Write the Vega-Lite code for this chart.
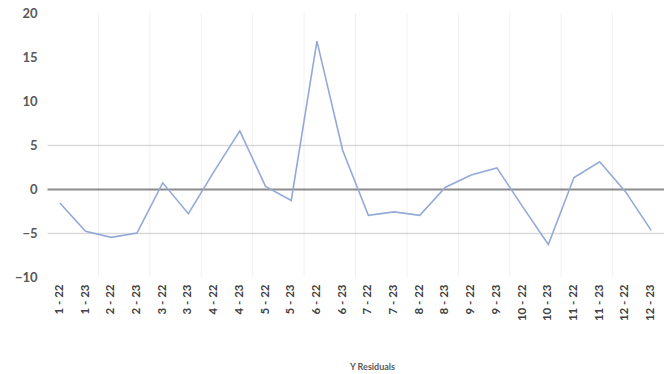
{
  "$schema": "https://vega.github.io/schema/vega-lite/v6.json",
  "width": 617,
  "height": 264,
  "autosize": {"type": "none"},
  "padding": {"left": 47, "top": 13, "right": 0, "bottom": 97},
  "background": "#ffffff",
  "config": {
    "view": {"stroke": null},
    "axis": {"labelFont": "Lato", "titleFont": "Lato", "labelColor": "#595959", "titleColor": "#595959"}
  },
  "data": {
    "values": [
      {"period": "1 - 22", "residual": -1.6},
      {"period": "1 - 23", "residual": -4.8},
      {"period": "2 - 22", "residual": -5.5},
      {"period": "2 - 23", "residual": -5.0},
      {"period": "3 - 22", "residual": 0.7},
      {"period": "3 - 23", "residual": -2.8},
      {"period": "4 - 22", "residual": 2.0},
      {"period": "4 - 23", "residual": 6.6},
      {"period": "5 - 22", "residual": 0.3},
      {"period": "5 - 23", "residual": -1.3},
      {"period": "6 - 22", "residual": 16.8},
      {"period": "6 - 23", "residual": 4.4},
      {"period": "7 - 22", "residual": -3.0},
      {"period": "7 - 23", "residual": -2.6},
      {"period": "8 - 22", "residual": -3.0},
      {"period": "8 - 23", "residual": 0.2},
      {"period": "9 - 22", "residual": 1.6},
      {"period": "9 - 23", "residual": 2.4},
      {"period": "10 - 22", "residual": -2.0},
      {"period": "10 - 23", "residual": -6.3},
      {"period": "11 - 22", "residual": 1.3},
      {"period": "11 - 23", "residual": 3.1},
      {"period": "12 - 22", "residual": -0.3},
      {"period": "12 - 23", "residual": -4.7}
    ]
  },
  "resolve": {"scale": {"x": "shared", "y": "shared"}},
  "layer": [
    {
      "mark": {"type": "rule", "stroke": "#000000", "strokeWidth": 1},
      "encoding": {
        "x": {
          "field": "period",
          "type": "ordinal",
          "sort": null,
          "bandPosition": 0,
          "scale": {"type": "band", "paddingInner": 0, "paddingOuter": 0}
        },
        "strokeOpacity": {
          "condition": {"test": "datum.period !== '1 - 22' && indexof(datum.period, '- 22') > 0", "value": 0.06},
          "value": 0
        }
      }
    },
    {
      "mark": {"type": "line", "stroke": "#93aad6", "strokeWidth": 1.6, "strokeJoin": "miter"},
      "encoding": {
        "x": {
          "field": "period",
          "type": "ordinal",
          "sort": null,
          "bandPosition": 0.5,
          "scale": {"type": "band", "paddingInner": 0, "paddingOuter": 0},
          "axis": {
            "title": "Y Residuals",
            "titleFontSize": 9,
            "titleFontWeight": "bold",
            "titleX": 325,
            "titleY": 92,
            "titleBaseline": "alphabetic",
            "titleAnchor": null,
            "labelAngle": 270,
            "labelFontSize": 11.5,
            "labelFontWeight": "bold",
            "labelColor": "#404040",
            "labelPadding": 7,
            "domain": false,
            "ticks": false,
            "grid": false
          }
        },
        "y": {
          "field": "residual",
          "type": "quantitative",
          "scale": {"domain": [-10, 20], "nice": false, "zero": false},
          "axis": {
            "title": null,
            "values": [-10, -5, 0, 5, 10, 15, 20],
            "labelFontSize": 13,
            "labelFontWeight": "bold",
            "labelPadding": 10,
            "domain": false,
            "ticks": false,
            "grid": true,
            "gridColor": {"condition": {"test": "datum.value === 0", "value": "#8c8c8c"}, "value": "#d9d9d9"},
            "gridWidth": {"condition": {"test": "datum.value === 0", "value": 2.2}, "value": 1.4},
            "gridOpacity": {"condition": {"test": "abs(datum.value) <= 5", "value": 1}, "value": 0}
          }
        }
      }
    }
  ]
}
